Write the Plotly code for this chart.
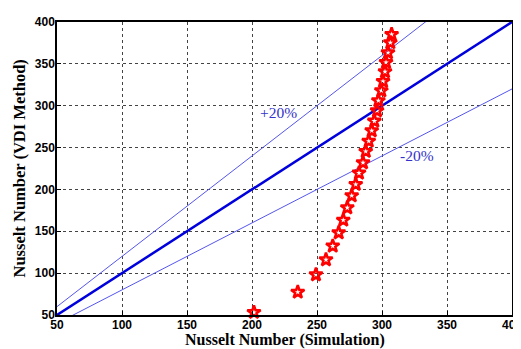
import plotly.graph_objects as go

sim_nu = [307.4, 306.4, 304.6, 303.1, 302.3, 300.8, 299.5, 297.2, 296.2, 294.1,
          292.1, 289.8, 287.5, 285.4, 282.3, 279.8, 276.7, 273.3, 270.2, 266.7,
          262.1, 256.9, 249.2, 235.2, 201.5]
vdi_nu = [385.3, 375.3, 363.3, 351.8, 340.6, 329.1, 317.9, 306.0, 294.0, 281.7,
          270.1, 257.8, 245.5, 231.9, 219.6, 206.1, 192.5, 178.1, 163.4, 148.3,
          132.4, 116.0, 98.1, 77.4, 53.2]
ref_x = [50, 400]
ticks = [50, 100, 150, 200, 250, 300, 350, 400]

fig = go.Figure()
fig.add_trace(go.Scatter(x=ref_x, y=[v * 1.2 for v in ref_x], mode="lines",
                         line=dict(color="#5555ee", width=1), cliponaxis=True))
fig.add_trace(go.Scatter(x=ref_x, y=[v * 0.8 for v in ref_x], mode="lines",
                         line=dict(color="#5555ee", width=1), cliponaxis=True))
fig.add_trace(go.Scatter(x=ref_x, y=ref_x, mode="lines",
                         line=dict(color="#0000dd", width=2.5)))
fig.add_trace(go.Scatter(x=sim_nu, y=vdi_nu, mode="markers", cliponaxis=False,
                         marker=dict(symbol="star-open", size=10, color="#ff0000",
                                     line=dict(color="#ff0000", width=2.5))))

fig.add_annotation(x=220, y=291.6, text="+20%", showarrow=False,
                   font=dict(family="Liberation Serif", size=15.5, color="#3333cc"))
fig.add_annotation(x=327, y=241, text="-20%", showarrow=False,
                   font=dict(family="Liberation Serif", size=15.5, color="#3333cc"))
fig.add_annotation(x=0.5, y=0, xref="paper", yref="paper", yanchor="middle",
                   yshift=-25, text="<b>Nusselt Number (Simulation)</b>",
                   showarrow=False,
                   font=dict(family="Liberation Serif", size=16, color="black"))
fig.add_annotation(x=0, y=0.5, xref="paper", yref="paper", xanchor="center",
                   yanchor="middle", xshift=-38, textangle=-90,
                   text="<b>Nusselt Number (VDI Method)</b>", showarrow=False,
                   font=dict(family="Liberation Serif", size=16.5, color="black"))

axis_common = dict(
    tickvals=ticks, ticktext=[str(t) for t in ticks],
    showgrid=True, gridcolor="#444444", griddash="3px,3px", gridwidth=1,
    showline=True, linecolor="black", linewidth=1.5, mirror=True,
    ticks="inside", ticklen=4, tickcolor="black",
    tickfont=dict(family="Liberation Sans", size=12, color="black", weight="bold"),
    zeroline=False,
)
fig.update_xaxes(range=[50, 400], ticklabelstandoff=-2, **axis_common)
fig.update_yaxes(range=[50, 400], ticklabelstandoff=-2, **axis_common)
fig.update_layout(width=521, height=341, showlegend=False,
                  paper_bgcolor="white", plot_bgcolor="white",
                  margin=dict(l=49, r=17, t=14, b=34, autoexpand=False))
fig.write_html("out.html")
